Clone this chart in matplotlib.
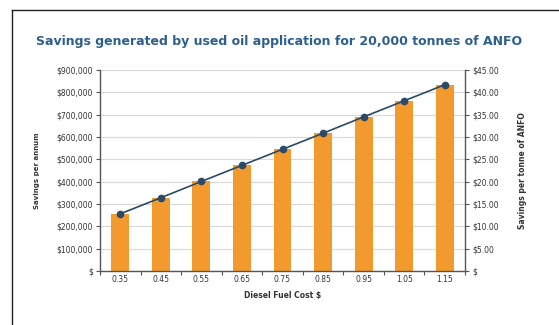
import numpy as np
import matplotlib.pyplot as plt
from matplotlib.ticker import FuncFormatter

# data
fuel_cost = ['0.35', '0.45', '0.55', '0.65', '0.75', '0.85', '0.95', '1.05', '1.15']
savings_annum = [256000, 328000, 401000, 473000, 545000, 617000, 690000, 762000, 834000]
savings_tonne = [12.8, 16.4, 20.05, 23.65, 27.25, 30.85, 34.5, 38.1, 41.7]

BAR = '#F39A2E'
LINE = '#2B4A66'
TITLE = '#2D5F8E'
TXT = '#333333'

plt.rcParams['font.family'] = ['DejaVu Sans']

fig = plt.figure(figsize=(5.59, 3.25), dpi=100)

# frame lines of the original panel (top and left only)
fig.add_artist(plt.Line2D([12/559, 1], [1 - 10/325, 1 - 10/325], color='#222222', lw=1.0))
fig.add_artist(plt.Line2D([12/559, 12/559], [0, 1 - 10/325], color='#222222', lw=1.0))

ax = fig.add_axes([100/559, 1 - 271/325, 365/559, 201/325])
x = np.arange(len(fuel_cost))

ax.bar(x, savings_annum, width=0.44, color=BAR, zorder=2)
ax.set_xlim(-0.5, len(fuel_cost) - 0.5)
ax.set_ylim(0, 900000)
ax.set_yticks(np.arange(0, 900001, 100000))
ax.yaxis.set_major_formatter(FuncFormatter(lambda v, p: '$' if v == 0 else '${:,.0f}'.format(v)))
ax.grid(axis='y', color='#d8d8d8', lw=0.8, zorder=0)

ax.set_xticks(x)
ax.set_xticklabels(fuel_cost)
ax.set_xticks(np.arange(-0.5, len(fuel_cost), 1.0), minor=True)
ax.tick_params(axis='x', which='major', length=0, labelsize=5.5, colors=TXT, pad=3)
ax.tick_params(axis='x', which='minor', length=3, color='#555555', width=0.8)
ax.tick_params(axis='y', length=3, color='#555555', width=0.8, labelsize=5.5, labelcolor=TXT, pad=2)

for side in ['top', 'right']:
    ax.spines[side].set_visible(False)
for side in ['left', 'bottom']:
    ax.spines[side].set_color('#555555')
    ax.spines[side].set_linewidth(1.0)

ax.set_xlabel('Diesel Fuel Cost $', fontsize=5.5, fontweight='bold', color=TXT, labelpad=5)
ax.set_ylabel('Savings per annum', fontsize=5, fontweight='bold', color=TXT, labelpad=12)

ax2 = ax.twinx()
ax2.plot(x, savings_tonne, color=LINE, lw=1.2, marker='o', ms=4.5, zorder=3)
ax2.set_ylim(0, 45)
ax2.set_yticks(np.arange(0, 45.1, 5))
ax2.yaxis.set_major_formatter(FuncFormatter(lambda v, p: '$' if v == 0 else '${:.2f}'.format(v)))
ax2.tick_params(axis='y', length=3, color='#555555', width=0.8, labelsize=5.5, labelcolor=TXT, pad=2)
for side in ['top', 'left', 'bottom']:
    ax2.spines[side].set_visible(False)
ax2.spines['right'].set_color('#555555')
ax2.spines['right'].set_linewidth(1.0)
ax2.set_ylabel('Savings per tonne of ANFO', fontsize=5.5, fontweight='bold', color=TXT, labelpad=14)

fig.text(0.5, 1 - 42/325, 'Savings generated by used oil application for 20,000 tonnes of ANFO',
         ha='center', va='center', fontsize=9, fontweight='bold', color=TITLE)

fig.savefig('out.png', dpi=100)
